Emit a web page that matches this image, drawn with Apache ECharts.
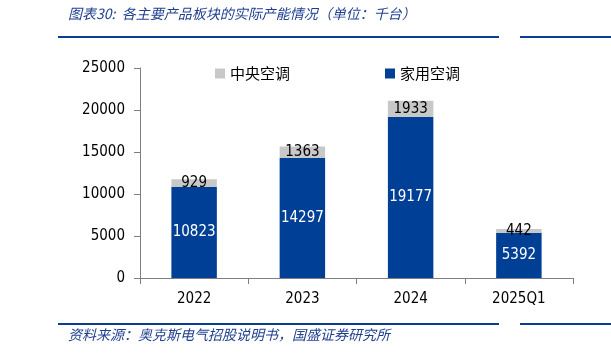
<!DOCTYPE html>
<html><head><meta charset="utf-8">
<script src="https://cdn.jsdelivr.net/npm/echarts@6/dist/echarts.min.js"></script>
<style>html,body{margin:0;padding:0;background:#fff}#c{width:611px;height:356px}</style>
</head><body><div id="c"></div>
<script>
const categories = ['2022', '2023', '2024', '2025Q1'];
const household = [10823, 14297, 19177, 5392];
const central = [929, 1363, 1933, 442];
const yTicks = [0, 5000, 10000, 15000, 20000, 25000];
const titleText = '图表30:  各主要产品板块的实际产能情况（单位：千台）';
const sourceText = '资料来源：奥克斯电气招股说明书，国盛证券研究所';

const chart = echarts.init(document.getElementById('c'));
const numFont = '"DejaVu Sans Condensed", "DejaVu Sans", sans-serif';
chart.setOption({
  animation: false,
  grid: {left: 140, right: 38, top: 68, bottom: 78},
  legend: {
    data: ['中央空调', '家用空调'],
    top: 61, left: 210, itemGap: 95, itemWidth: 10, itemHeight: 10, icon: 'rect',
    textStyle: {fontSize: 15, color: '#000', fontFamily: '"Noto Sans CJK SC"'}
  },
  xAxis: {
    type: 'category', data: categories,
    axisLine: {lineStyle: {color: '#7f7f7f'}},
    axisTick: {show: true, alignWithLabel: false, length: 6, lineStyle: {color: '#7f7f7f'}},
    axisLabel: {fontSize: 15, color: '#000', margin: 14, fontFamily: numFont}
  },
  yAxis: {
    type: 'value', min: yTicks[0], max: yTicks[yTicks.length - 1], interval: 5000,
    axisLine: {show: true, lineStyle: {color: '#7f7f7f'}},
    axisTick: {show: true, length: 6, lineStyle: {color: '#7f7f7f'}},
    splitLine: {show: false},
    axisLabel: {fontSize: 15, color: '#000', margin: 15, fontFamily: numFont, formatter: v => String(v)}
  },
  series: [
    {name: '家用空调', type: 'bar', stack: 's', data: household, barWidth: '42%',
     itemStyle: {color: '#003f96'},
     label: {show: true, position: 'inside', color: '#fff', fontSize: 15, fontFamily: numFont}},
    {name: '中央空调', type: 'bar', stack: 's', data: central, barWidth: '42%',
     itemStyle: {color: '#c8c8c8'},
     label: {show: true, position: 'inside', color: '#000', fontSize: 15, fontFamily: numFont}}
  ],
  graphic: [
    {type: 'text', left: 68, top: 7, style: {text: titleText, fill: '#1f3f8f', font: 'italic 14px "Noto Sans CJK SC"'}},
    {type: 'rect', shape: {x: 58, y: 36, width: 441, height: 2}, style: {fill: '#0b3d91'}},
    {type: 'rect', shape: {x: 520, y: 36, width: 91, height: 2}, style: {fill: '#0b3d91'}},
    {type: 'rect', shape: {x: 58, y: 323, width: 441, height: 2}, style: {fill: '#0b3d91'}},
    {type: 'rect', shape: {x: 520, y: 323, width: 91, height: 2}, style: {fill: '#0b3d91'}},
    {type: 'text', left: 68, top: 328, style: {text: sourceText, fill: '#1f3f8f', font: 'italic 14px "Noto Sans CJK SC"'}}
  ]
});
</script></body></html>
